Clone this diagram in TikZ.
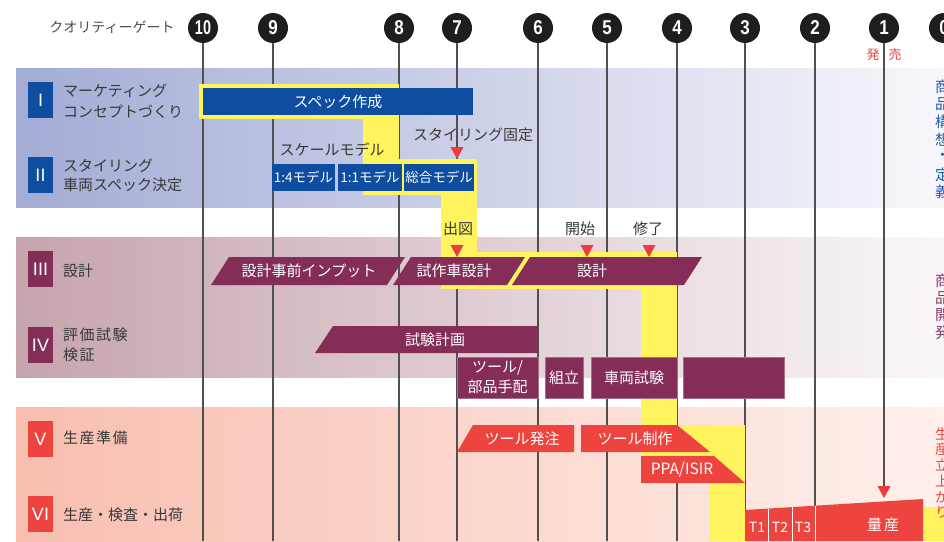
\documentclass[tikz,border=0pt]{standalone}
\usepackage{fontspec}
\usepackage{graphicx}
\setmainfont{Noto Sans CJK JP}
\newfontfamily\numfont{Liberation Sans}
\definecolor{barblue}{HTML}{0E4DA0}
\definecolor{barpur}{HTML}{842D57}
\definecolor{barred}{HTML}{EE4440}
\definecolor{hiyel}{HTML}{FFF35E}
\definecolor{trired}{HTML}{EE3B3B}
\definecolor{txtgray}{HTML}{383838}
\definecolor{gatecol}{HTML}{1E1E1E}
\definecolor{linecol}{HTML}{505050}
\definecolor{vblue}{HTML}{1F5CB0}
\definecolor{vpur}{HTML}{8A3A66}
\definecolor{vred}{HTML}{EA4540}
\definecolor{bandBl}{HTML}{A3ACD5}
\definecolor{bandBr}{HTML}{F7F7FB}
\definecolor{bandPl}{HTML}{C6A4AE}
\definecolor{bandPr}{HTML}{FAF7F8}
\definecolor{bandRl}{HTML}{F8BEAF}
\definecolor{bandRr}{HTML}{FEF0EC}
\newcommand\gnum[1]{\scalebox{0.85}[1]{#1}}
\begin{document}
\begin{tikzpicture}[x=1pt,y=-1pt,
  gate/.style={circle,fill=gatecol,minimum size=30pt,inner sep=0pt,text=white,font=\numfont\bfseries\fontsize{20}{20}\selectfont},
  gline/.style={draw=linecol,line width=1.1pt},
  lbl/.style={inner sep=0pt,text=txtgray,font=\fontsize{15}{18}\selectfont},
  rbox/.style={minimum width=25pt,minimum height=36pt,inner sep=0pt,text=white,font=\numfont\fontsize{18}{18}\selectfont},
  bartxt/.style={inner sep=0pt,text=white,font=\fontsize{15}{18}\selectfont},
  bbox/.style={fill=barblue,inner sep=0pt,text=white,font=\fontsize{13.5}{16}\selectfont,minimum height=27pt},
  pbox/.style={fill=barpur,draw=barpur!70!white,line width=0.6pt,inner sep=0pt,text=white,font=\fontsize{15}{20}\selectfont,minimum height=41pt},
  ptile/.style={fill=barpur},
  rtile/.style={fill=barred},
  vtxt/.style={inner sep=0pt,anchor=west,font=\fontsize{15}{18}\selectfont},
  tri/.pic={\fill[trired] (0,0) -- (-6.5,-12) -- (6.5,-12) -- cycle;}
]
\useasboundingbox (0,0) rectangle (944,541);
\clip (0,0) rectangle (944,541);
% bands
\shade[left color=bandBl,right color=bandBr] (16,68) rectangle (944,207);
\shade[left color=bandPl,right color=bandPr] (16,237) rectangle (944,377);
\shade[left color=bandRl,right color=bandRr] (16,407) rectangle (944,541);
% header
\node[inner sep=0pt,text=txtgray!90,font=\fontsize{14}{16}\selectfont] (qg) at (112,27) {クオリティーゲート};
% gates
\node[gate] (g10) at (203,28) {\scalebox{0.72}[1]{10}};
\node[gate] (g9) at (273,28) {\gnum{9}};
\node[gate] (g8) at (399,28) {\gnum{8}};
\node[gate] (g7) at (457,28) {\gnum{7}};
\node[gate] (g6) at (538,28) {\gnum{6}};
\node[gate] (g5) at (607,28) {\gnum{5}};
\node[gate] (g4) at (677,28) {\gnum{4}};
\node[gate] (g3) at (745,28) {\gnum{3}};
\node[gate] (g2) at (815,28) {\gnum{2}};
\node[gate] (g1) at (884,28) {\gnum{1}};
\node[gate] (g0) at (944,28) {\gnum{0}};
\node[inner sep=0pt,text=vred,font=\fontsize{13}{15}\selectfont] (hatsubai) at (884,55) {発\hspace{9pt}売};
\coordinate (bot) at (0,541);
\foreach \n in {10,9,8,7,6,5,4,3,2} \draw[gline] (g\n) -- (g\n |- bot);
\coordinate (a1) at (884,487);
\draw[gline] (g1) -- (a1);
% yellow highlight
\fill[hiyel] (199,84) rectangle (399,119);
\fill[hiyel] (363,117) rectangle (399,195);
\fill[hiyel] (399,159) rectangle (477,195);
\fill[hiyel] (441,195) rectangle (477,289);
\fill[hiyel] (441,252) rectangle (677,289);
\fill[hiyel] (641,289) rectangle (677,456);
\fill[hiyel] (677,425) rectangle (745,483);
\fill[hiyel] (709,483) rectangle (745,541);
\fill[hiyel] (923,507) rectangle (944,541);
% roman boxes and row labels
\node[rbox,fill=barblue] (r1) at (40.5,100) {I};
\node[rbox,fill=barblue] (r2) at (40.5,175) {II};
\node[rbox,fill=barpur] (r3) at (40.5,269) {III};
\node[rbox,fill=barpur] (r4) at (40.5,345) {IV};
\node[rbox,fill=barred] (r5) at (40.5,439) {V};
\node[rbox,fill=barred] (r6) at (40.5,514) {VI};
\node[lbl,anchor=west] (l1a) at (63,91) {マーケティング};
\node[lbl,anchor=west] (l1b) at (63,112) {コンセプトづくり};
\node[lbl,anchor=west] (l2a) at (63,166) {スタイリング};
\node[lbl,anchor=west] (l2b) at (63,185) {車両スペック決定};
\node[lbl,anchor=west] (l3) at (63,271) {設計};
\node[lbl,anchor=west] (l4a) at (63,335) {評\hspace{1.5pt}価\hspace{1.5pt}試\hspace{1.5pt}験};
\node[lbl,anchor=west] (l4b) at (63,355) {検\hspace{1.5pt}証};
\node[lbl,anchor=west] (l5) at (63,438) {生\hspace{1.5pt}産\hspace{1.5pt}準\hspace{1.5pt}備};
\node[lbl,anchor=west] (l6) at (63,515) {生産・検査・出荷};
% blue bars
\node[bbox,minimum width=270pt,font=\fontsize{15}{18}\selectfont] (spec) at (338,101.5) {スペック作成};
\node[bbox,minimum width=63pt] (m14) at (303.5,177.5) {1:4モデル};
\node[bbox,minimum width=64pt] (m11) at (370,177.5) {1:1モデル};
\node[bbox,minimum width=70pt] (msg) at (439,177.5) {総合モデル};
\node[lbl] (scale) at (332,150) {スケールモデル};
\node[lbl] (sfix) at (473,135) {スタイリング固定};
\pic at (457,159) {tri};
% III row
\fill[ptile] (229,257) -- (405,257) -- (387,285) -- (211,285) -- cycle;
\node[bartxt] (pre) at (309,271) {設計事前インプット};
\fill[ptile] (411,257) -- (525,257) -- (507,285) -- (393,285) -- cycle;
\node[bartxt] (proto) at (454,271) {試作車設計};
\fill[ptile] (530,257) -- (702,257) -- (684,285) -- (512,285) -- cycle;
\node[bartxt] (design) at (592,271) {設計};
\node[lbl] (shutsu) at (458,229) {出図};
\node[lbl] (kaishi) at (580,229) {開始};
\node[lbl] (shuryo) at (648,229) {修了};
\pic at (457,257) {tri};
\pic at (587,257) {tri};
\pic at (649,257) {tri};
% IV row
\fill[ptile] (333,326) -- (538,326) -- (538,353) -- (315,353) -- cycle;
\node[bartxt] (plan) at (435,340) {試験計画};
\node[pbox,minimum width=81pt,align=center] (parts) at (497.5,377.5) {ツール/\\部品手配};
\node[pbox,minimum width=38pt] (kumi) at (564,377.5) {組立};
\node[pbox,minimum width=86pt] (veh) at (634,377.5) {車両試験};
\node[pbox,minimum width=101pt] (blank) at (733.5,377.5) {};
% V row
\fill[rtile] (473,425) -- (574,425) -- (574,452) -- (457,452) -- cycle;
\node[bartxt] (order) at (522,439) {ツール発注};
\fill[rtile] (581,425) -- (677,425) -- (710,452) -- (581,452) -- cycle;
\node[bartxt] (make) at (635,439) {ツール制作};
\fill[rtile] (641,456) -- (714,456) -- (745,483) -- (641,483) -- cycle;
\node[bartxt,font=\fontsize{15.5}{18}\selectfont] (ppa) at (682,470) {PPA/ISIR};
% VI row
\fill[rtile] (745,510) -- (923,499) -- (923,541) -- (745,541) -- cycle;
\draw[white,line width=0.9pt] (768,508.6) -- (768,541) (792,507.1) -- (792,541) (815,505.7) -- (815,541);
\node[bartxt,font=\fontsize{14}{16}\selectfont] (t1) at (757,527) {T1};
\node[bartxt,font=\fontsize{14}{16}\selectfont] (t2) at (780,527) {T2};
\node[bartxt,font=\fontsize{14}{16}\selectfont] (t3) at (803,527) {T3};
\node[bartxt] (mass) at (883,525) {量\hspace{2pt}産};
\pic at (884,498) {tri};
% right side vertical texts
\foreach \c [count=\i] in {商,品,構,想,・,定,義} \node[vtxt,text=vblue] (vb\i) at (935,87+17.5*\i-17.5) {\c};
\foreach \c [count=\i] in {商,品,開,発} \node[vtxt,text=vpur] (vp\i) at (935,281+17.3*\i-17.3) {\c};
\foreach \c [count=\i] in {生,産,立,上,が,り} \node[vtxt,text=vred,font=\fontsize{14}{16}\selectfont] (vr\i) at (935,434+15.6*\i-15.6) {\c};
\end{tikzpicture}
\end{document}
